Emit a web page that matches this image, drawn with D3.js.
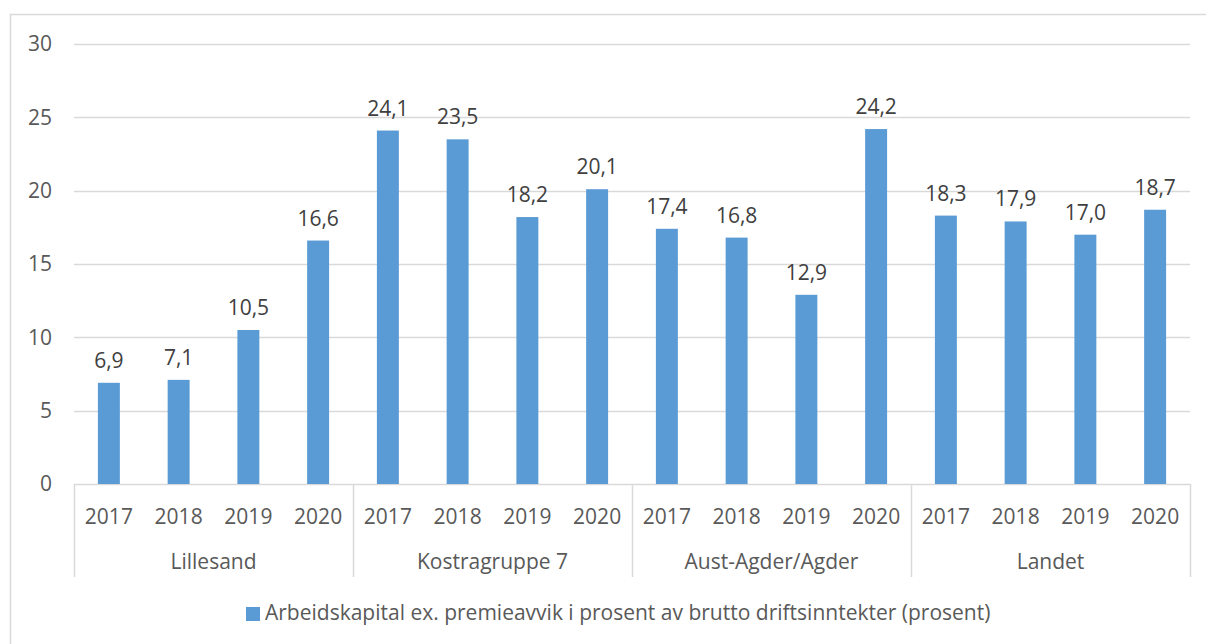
<!DOCTYPE html>
<html>
<head>
<meta charset="utf-8">
<script src="https://cdn.jsdelivr.net/npm/d3@7"></script>
<style>
  body { margin: 0; background: #fff; }
  svg { display: block; font-family: "Open Sans", "Noto Sans", sans-serif; }
</style>
</head>
<body>
<svg width="1206" height="644"></svg>
<script>
// data
const groups = ["Lillesand", "Kostragruppe 7", "Aust-Agder/Agder", "Landet"];
const years = ["2017", "2018", "2019", "2020"];
const lillesand = [6.9, 7.1, 10.5, 16.6];
const kostra7 = [24.1, 23.5, 18.2, 20.1];
const agder = [17.4, 16.8, 12.9, 24.2];
const landet = [18.3, 17.9, 17.0, 18.7];
const yTicks = [0, 5, 10, 15, 20, 25, 30];
const seriesName = "Arbeidskapital ex. premieavvik i prosent av brutto driftsinntekter (prosent)";

const groupValues = [lillesand, kostra7, agder, landet];
const rows = [];
groups.forEach((g, gi) => {
  years.forEach((y, yi) => {
    rows.push({ key: g + "|" + y, group: g, year: y, value: groupValues[gi][yi] });
  });
});

const svg = d3.select("svg");
const textColor = "#595959";
const gridColor = "#d9d9d9";
const barColor = "#5b9bd5";
const fs = 21;

// chart border (top and left visible)
svg.append("rect")
  .attr("x", 10.5).attr("y", 14.5)
  .attr("width", 1220).attr("height", 660)
  .attr("fill", "none")
  .attr("stroke", gridColor)
  .attr("stroke-width", 1.5);

const plotL = 74, plotR = 1190, plotT = 44, plotB = 484;

const x = d3.scaleBand()
  .domain(rows.map(d => d.key))
  .range([plotL, plotR])
  .paddingInner(0.685)
  .paddingOuter(0.3425);

const xGroup = d3.scaleBand()
  .domain(groups)
  .range([plotL, plotR]);

const y = d3.scaleLinear()
  .domain([0, 30])
  .range([plotB, plotT]);

// gridlines
svg.append("g")
  .selectAll("line")
  .data(yTicks)
  .join("line")
  .attr("x1", plotL).attr("x2", plotR)
  .attr("y1", d => Math.round(y(d)) + 0.5)
  .attr("y2", d => Math.round(y(d)) + 0.5)
  .attr("stroke", gridColor)
  .attr("stroke-width", 1.5);

// y axis labels
const yAxis = svg.append("g")
  .attr("transform", `translate(${plotL - 22},0)`)
  .call(d3.axisLeft(y).tickValues(yTicks).tickSize(0).tickPadding(0).tickFormat(d3.format("d")));
yAxis.select(".domain").remove();
yAxis.selectAll("text")
  .attr("fill", textColor)
  .attr("font-size", fs)
  .attr("font-family", "Open Sans, Noto Sans, sans-serif");

// bars
svg.append("g")
  .selectAll("rect")
  .data(rows)
  .join("rect")
  .attr("x", d => x(d.key))
  .attr("y", d => y(d.value))
  .attr("width", x.bandwidth())
  .attr("height", d => y(0) - y(d.value))
  .attr("fill", barColor);

// value labels
const fmt = v => v.toFixed(1).replace(".", ",");
svg.append("g")
  .selectAll("text")
  .data(rows)
  .join("text")
  .attr("x", d => x(d.key) + x.bandwidth() / 2)
  .attr("y", d => y(d.value) - 15)
  .attr("text-anchor", "middle")
  .attr("fill", "#404040")
  .attr("font-size", fs)
  .text(d => fmt(d.value));

// year labels
svg.append("g")
  .selectAll("text")
  .data(rows)
  .join("text")
  .attr("x", d => x(d.key) + x.bandwidth() / 2)
  .attr("y", 524)
  .attr("text-anchor", "middle")
  .attr("fill", textColor)
  .attr("font-size", fs)
  .text(d => d.year);

// group labels
svg.append("g")
  .selectAll("text")
  .data(groups)
  .join("text")
  .attr("x", d => xGroup(d) + xGroup.bandwidth() / 2)
  .attr("y", 569)
  .attr("text-anchor", "middle")
  .attr("fill", textColor)
  .attr("font-size", fs)
  .text(d => d);

// group separators
const seps = groups.map(g => xGroup(g)).concat([plotR]);
svg.append("g")
  .selectAll("line")
  .data(seps)
  .join("line")
  .attr("x1", d => Math.round(d) + 0.5).attr("x2", d => Math.round(d) + 0.5)
  .attr("y1", plotB).attr("y2", 577)
  .attr("stroke", gridColor)
  .attr("stroke-width", 1.5);

// legend
const legend = svg.append("g").attr("transform", "translate(246,607)");
legend.append("rect")
  .attr("width", 14).attr("height", 14)
  .attr("fill", barColor);
legend.append("text")
  .attr("x", 19).attr("y", 13)
  .attr("fill", textColor)
  .attr("font-size", fs)
  .text(seriesName);
</script>
</body>
</html>
